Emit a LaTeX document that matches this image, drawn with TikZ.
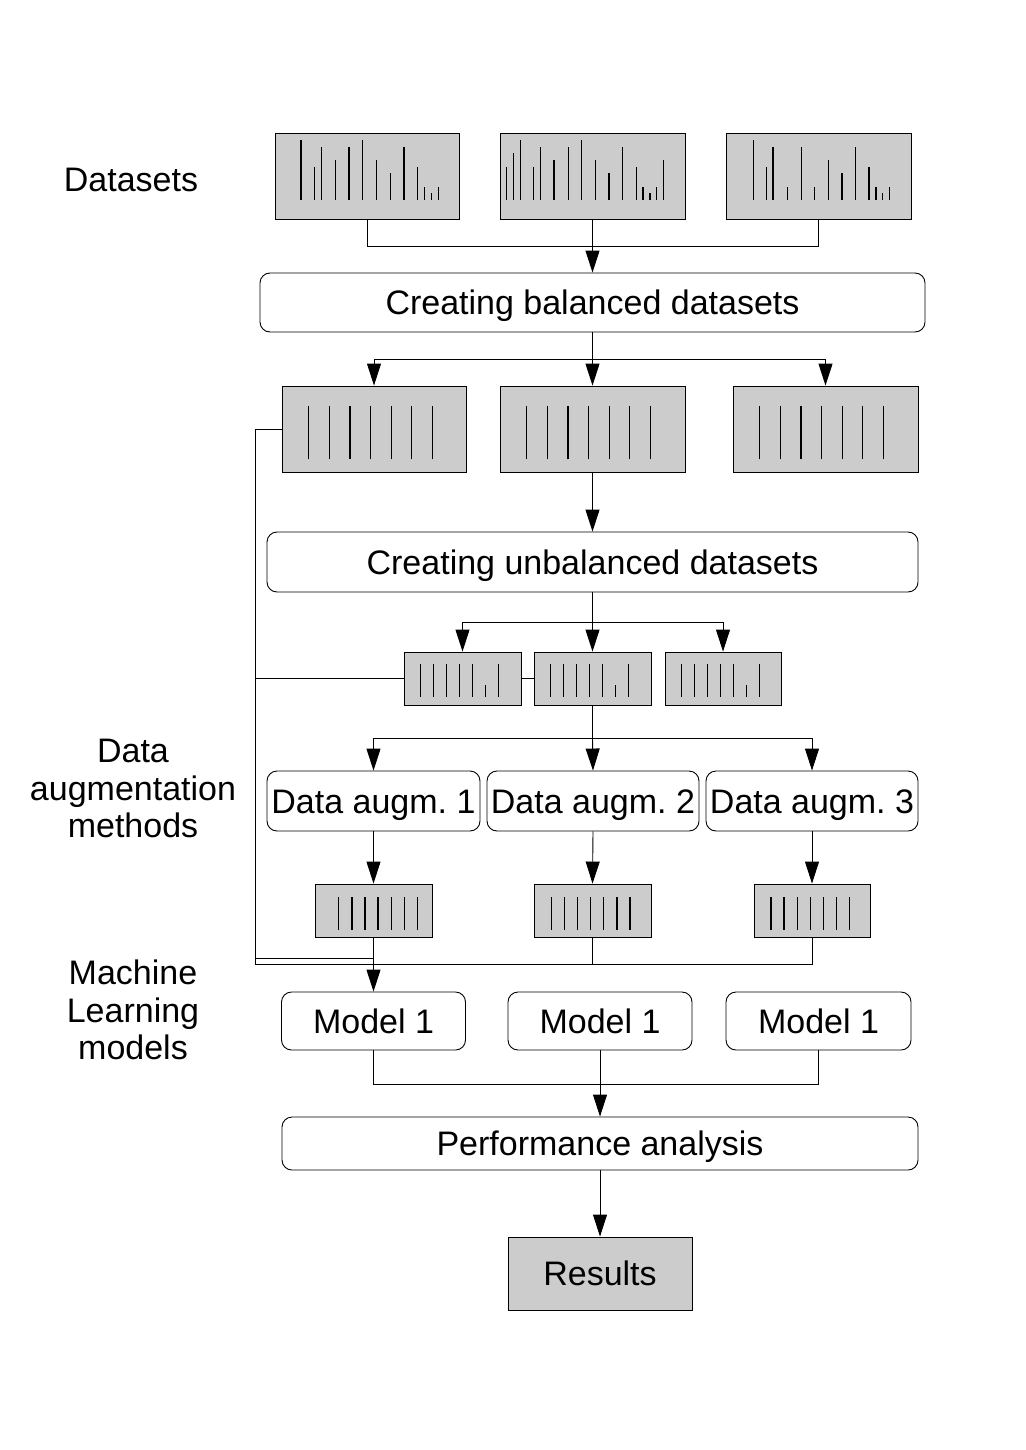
\documentclass[tikz,border=0pt]{standalone}
\usepackage{fontspec}
\setmainfont{Liberation Sans}
\usetikzlibrary{arrows.meta}
\definecolor{boxgray}{HTML}{CCCCCC}
\begin{document}
\frenchspacing
\begin{tikzpicture}[x=1pt,y=-1pt,
  line width=0.9pt,
  gbox/.style={draw, fill=boxgray, inner sep=0pt},
  rbox/.style={draw, rounded corners=10pt, inner sep=0pt, text height=24pt, text depth=0pt, font=\fontsize{34}{40}\selectfont},
  lbl/.style={align=center, font=\fontsize{34}{37.5}\selectfont},
  arr/.style={-{Triangle[length=22pt,width=14pt]}},
  bar/.style={line width=1.3pt}]
\useasboundingbox (0,0) rectangle (1025,1450);

% datasets
\node[gbox, minimum width=184pt, minimum height=86pt] (d1) at (367,176) {};
\node[gbox, minimum width=185pt, minimum height=86pt] (d2) at (592.5,176) {};
\node[gbox, minimum width=185pt, minimum height=86pt] (d3) at (818.5,176) {};
\foreach \dx/\h in {26.5/60, 40.1/33.3, 47.1/53.3, 61.2/40, 74.4/53.3, 88.1/60, 102.1/40, 115.8/26.7, 129.4/53.3, 143.1/33.3, 150.1/13.3, 156.7/6.7, 163.8/13.3}
  \draw[bar] (d1.south west) ++(\dx,-19.3) -- ++(0,-\h);
\foreach \dx/\h in {7/33.3, 14/46.7, 20.7/60, 33.9/33.3, 40.9/53.3, 54.5/40, 68.6/53.3, 81.8/60, 95.9/40, 109.5/26.7, 123.1/53.3, 136.8/33.3, 143.4/13.3, 150.4/6.7, 157/13.3, 164/40}
  \draw[bar] (d2.south west) ++(\dx,-19.3) -- ++(0,-\h);
\foreach \dx/\h in {28.1/60, 40.9/33.3, 47.5/53.3, 61.6/13.3, 75.6/53.3, 88.8/13.3, 102.9/40, 116.5/26.7, 129.8/53.3, 143.4/33.3, 150.4/13.3, 157/6.7, 164/13.3}
  \draw[bar] (d3.south west) ++(\dx,-19.3) -- ++(0,-\h);

\node[rbox, minimum width=665pt, minimum height=59pt] (cb) at (592.5,302.5) {Creating balanced datasets};

% balanced
\node[gbox, minimum width=184pt, minimum height=86pt] (b1) at (374,429) {};
\node[gbox, minimum width=185pt, minimum height=86pt] (b2) at (592.5,429) {};
\node[gbox, minimum width=185pt, minimum height=86pt] (b3) at (825.5,429) {};
\foreach \b in {b1,b2,b3}
  \foreach \i in {0,...,6}
    \draw[bar] (\b.south west) ++(27.2+20.6*\i,-13) -- ++(0,-53);

\node[rbox, minimum width=651pt, minimum height=60pt] (cu) at (592.5,562) {Creating unbalanced datasets};

% unbalanced
\node[gbox, minimum width=117pt, minimum height=53pt] (s1) at (462.5,678.5) {};
\node[gbox, minimum width=117pt, minimum height=53pt] (s2) at (592.5,678.5) {};
\node[gbox, minimum width=116pt, minimum height=53pt] (s3) at (723,678.5) {};
\foreach \b in {s1,s2,s3}
  \foreach \i/\h in {0/32.6,1/32.6,2/32.6,3/32.6,4/32.6,5/11.6,6/32.6}
    \draw[bar] (\b.south west) ++(17.2+12.93*\i,-8.7) -- ++(0,-\h);

% augmentation
\node[rbox, minimum width=213pt, minimum height=60pt] (a1) at (373.5,801) {Data augm. 1};
\node[rbox, minimum width=212pt, minimum height=60pt] (a2) at (593,801) {Data augm. 2};
\node[rbox, minimum width=212pt, minimum height=60pt] (a3) at (812,801) {Data augm. 3};

\node[gbox, minimum width=117pt, minimum height=53pt] (o1) at (373.5,910.5) {};
\node[gbox, minimum width=117pt, minimum height=53pt] (o2) at (592.5,910.5) {};
\node[gbox, minimum width=116pt, minimum height=53pt] (o3) at (812,910.5) {};
\foreach \i in {0,...,6} \draw[bar] (o1.south west) ++(24.2+13.1*\i,-7.3) -- ++(0,-32.7);
\foreach \i in {0,...,6} \draw[bar] (o2.south west) ++(17.8+13.1*\i,-7.3) -- ++(0,-32.7);
\foreach \i in {0,...,6} \draw[bar] (o3.south west) ++(17.4+13.1*\i,-7.3) -- ++(0,-32.7);

% models
\node[rbox, minimum width=184pt, minimum height=58pt] (m1) at (373.5,1021) {Model 1};
\node[rbox, minimum width=184pt, minimum height=58pt] (m2) at (600,1021) {Model 1};
\node[rbox, minimum width=185pt, minimum height=58pt] (m3) at (818.5,1021) {Model 1};

\node[rbox, minimum width=636pt, minimum height=53pt] (pa) at (600,1143.5) {Performance analysis};
\node[gbox, minimum width=184pt, minimum height=73pt, text height=24pt, text depth=0pt, font=\fontsize{34}{40}\selectfont] (res) at (600,1273.5) {Results};

% labels
\node[lbl] (t1) at (131,180) {Datasets};
\node[lbl] (t2) at (133,788.5) {Data\\augmentation\\methods};
\node[lbl] (t3) at (133,1010) {Machine\\Learning\\models};

% connectors
\draw (d1.south) -- ++(0,27) -| (d3.south);
\draw[arr] (d2.south) -- (cb.north);

\coordinate (j1) at (592.5,359);
\draw (cb.south) -- (j1);
\draw[arr] (j1) -| (b1.north);
\draw[arr] (j1) -| (b3.north);
\draw[arr] (j1) -- (b2.north);
\draw[arr] (b2.south) -- (cu.north);

\coordinate (j2) at (592.5,622);
\draw (cu.south) -- (j2);
\draw[arr] (j2) -| (s1.north);
\draw[arr] (j2) -| (s3.north);
\draw[arr] (j2) -- (s2.north);
\draw (s1.east) -- (s2.west);

\coordinate (lb) at (255,964);
\coordinate (lb2) at (255,958);
\draw (b1.west) -| (lb);
\draw (s1.west) -- (s1.west -| lb);

\coordinate (j3) at (592.5,738);
\draw (s2.south) -- (j3);
\draw[arr] (j3) -| (a1.north);
\draw[arr] (j3) -| (a3.north);
\draw[arr] (j3) -- (a2.north);

\draw[arr] (a1.south) -- (o1.north);
\draw[arr] (a2.south) -- (o2.north);
\draw[arr] (a3.south) -- (o3.north);

\draw (lb) -| (o3.south);
\draw (o2.south) -- (o2.south |- lb);
\draw (o1.south) -- (o1.south |- lb);
\draw (lb2) -- (lb2 -| o1.south);
\draw[arr] (o1.south |- lb) -- (m1.north);

\coordinate (j4) at (600,1084);
\draw (m1.south) |- (j4) -| (m3.south);
\draw[arr] (m2.south) -- (pa.north);
\draw[arr] (pa.south) -- (res.north);
\end{tikzpicture}
\end{document}
